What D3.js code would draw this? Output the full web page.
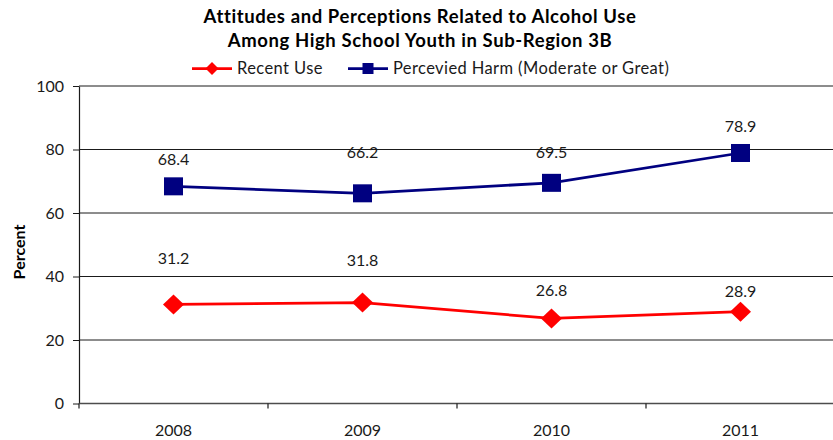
<!DOCTYPE html>
<html>
<head>
<meta charset="utf-8">
<script src="https://cdn.jsdelivr.net/npm/d3@7"></script>
<style>
  html, body { margin: 0; padding: 0; background: #fff; }
  svg { display: block; font-family: Lato, "Open Sans", sans-serif; }
</style>
</head>
<body>
<svg id="chart" width="833" height="440"></svg>
<script>
// Survey years and series values (percent)
const years = ["2008", "2009", "2010", "2011"];
const recentUse = [31.2, 31.8, 26.8, 28.9];
const perceivedHarm = [68.4, 66.2, 69.5, 78.9];
const yTicks = [0, 20, 40, 60, 80, 100];

// Vertical placement of each value label, in pixels from its marker
const harmLabelDy = [-21, -35, -25, -21];
const useLabelDy = [-40, -37, -22, -15];

const titleLines = [
  "Attitudes and Perceptions Related to Alcohol Use",
  "Among High School Youth in Sub-Region 3B"
];

const RED = "#ff0000";
const NAVY = "#000080";

const svg = d3.select("#chart");

const plot = { left: 79, right: 835, top: 86, bottom: 403.5 };

const x = d3.scaleBand().domain(years).range([plot.left, plot.right]).padding(0);
const y = d3.scaleLinear().domain([0, 100]).range([plot.bottom, plot.top]);
const cx = d => x(d) + x.bandwidth() / 2;

// Horizontal gridlines
svg.append("g")
  .selectAll("line")
  .data(yTicks.filter(t => t > 0))
  .join("line")
  .attr("x1", plot.left).attr("x2", plot.right)
  .attr("y1", d => y(d)).attr("y2", d => y(d))
  .attr("stroke", "#1a1a1a").attr("stroke-width", 1);

// Y axis
const yAxis = svg.append("g")
  .attr("transform", `translate(${plot.left},0)`)
  .call(d3.axisLeft(y).tickValues(yTicks).tickSizeInner(6).tickSizeOuter(0).tickPadding(9));
yAxis.select(".domain").attr("stroke", "#1a1a1a").attr("stroke-width", 1.2);
yAxis.selectAll(".tick line").attr("stroke", "#1a1a1a");
yAxis.selectAll("text")
  .attr("font-family", "Lato, sans-serif")
  .attr("font-size", 16)
  .attr("fill", "#1a1a1a");

// X axis: ticks between categories, labels centred in each band
const xAxis = svg.append("g").attr("transform", `translate(0,${plot.bottom})`);
xAxis.append("line")
  .attr("x1", plot.left).attr("x2", plot.right)
  .attr("y1", 0).attr("y2", 0)
  .attr("stroke", "#4d4d4d").attr("stroke-width", 1.6);
xAxis.selectAll("line.tick")
  .data(years)
  .join("line")
  .attr("class", "tick")
  .attr("x1", d => x(d)).attr("x2", d => x(d))
  .attr("y1", 0).attr("y2", 5)
  .attr("stroke", "#1a1a1a").attr("stroke-width", 1.2);
xAxis.selectAll("text")
  .data(years)
  .join("text")
  .attr("x", d => cx(d))
  .attr("y", 32.5)
  .attr("text-anchor", "middle")
  .attr("font-size", 16)
  .attr("fill", "#1a1a1a")
  .text(d => d);

// Y axis title
svg.append("text")
  .attr("transform", "translate(25,252) rotate(-90)")
  .attr("text-anchor", "middle")
  .attr("font-weight", "bold")
  .attr("font-size", 16)
  .attr("fill", "#000")
  .text("Percent");

// Chart title
svg.append("g")
  .selectAll("text")
  .data(titleLines)
  .join("text")
  .attr("x", 420)
  .attr("y", (d, i) => 22.5 + i * 24.5)
  .attr("text-anchor", "middle")
  .attr("font-weight", "bold")
  .attr("font-size", 18.5)
  .attr("letter-spacing", 0.6)
  .attr("fill", "#000")
  .text(d => d);

const line = d3.line().x(d => cx(d.year)).y(d => y(d.value));
const toPoints = vals => years.map((yr, i) => ({ year: yr, value: vals[i] }));

const harmPts = toPoints(perceivedHarm);
const usePts = toPoints(recentUse);

// Perceived harm series
svg.append("path")
  .datum(harmPts)
  .attr("fill", "none")
  .attr("stroke", NAVY)
  .attr("stroke-width", 2.75)
  .attr("d", line);
svg.append("g")
  .selectAll("rect")
  .data(harmPts)
  .join("rect")
  .attr("x", d => cx(d.year) - 9.5)
  .attr("y", d => y(d.value) - 9)
  .attr("width", 19)
  .attr("height", 18)
  .attr("fill", NAVY);

// Recent use series
svg.append("path")
  .datum(usePts)
  .attr("fill", "none")
  .attr("stroke", RED)
  .attr("stroke-width", 2.75)
  .attr("d", line);
const diamond = (px, py, rx, ry) => `M${px},${py - ry}L${px + rx},${py}L${px},${py + ry}L${px - rx},${py}Z`;
svg.append("g")
  .selectAll("path")
  .data(usePts)
  .join("path")
  .attr("d", d => diamond(cx(d.year), y(d.value), 10.5, 10))
  .attr("fill", RED);

// Value labels
svg.append("g")
  .selectAll("text")
  .data(harmPts)
  .join("text")
  .attr("x", d => cx(d.year))
  .attr("y", (d, i) => y(d.value) + harmLabelDy[i])
  .attr("text-anchor", "middle")
  .attr("font-size", 16)
  .attr("fill", "#1a1a1a")
  .text(d => d.value.toFixed(1));
svg.append("g")
  .selectAll("text")
  .data(usePts)
  .join("text")
  .attr("x", d => cx(d.year))
  .attr("y", (d, i) => y(d.value) + useLabelDy[i])
  .attr("text-anchor", "middle")
  .attr("font-size", 16)
  .attr("fill", "#1a1a1a")
  .text(d => d.value.toFixed(1));

// Legend
const legend = svg.append("g");
const legendY = 68.5;
legend.append("line")
  .attr("x1", 192).attr("x2", 232).attr("y1", legendY).attr("y2", legendY)
  .attr("stroke", RED).attr("stroke-width", 2.75);
legend.append("path")
  .attr("d", diamond(212, legendY, 6.5, 6.5))
  .attr("fill", RED);
legend.append("text")
  .attr("x", 237).attr("y", 73.5)
  .attr("font-size", 16.5).attr("letter-spacing", 0.4).attr("fill", "#1a1a1a")
  .text("Recent Use");
legend.append("line")
  .attr("x1", 348).attr("x2", 388).attr("y1", legendY).attr("y2", legendY)
  .attr("stroke", NAVY).attr("stroke-width", 2.75);
legend.append("rect")
  .attr("x", 368 - 5.5).attr("y", legendY - 5.5)
  .attr("width", 11).attr("height", 11)
  .attr("fill", NAVY);
legend.append("text")
  .attr("x", 393).attr("y", 73.5)
  .attr("font-size", 16.5).attr("letter-spacing", 0.4).attr("fill", "#1a1a1a")
  .text("Percevied Harm (Moderate or Great)");
</script>
</body>
</html>
